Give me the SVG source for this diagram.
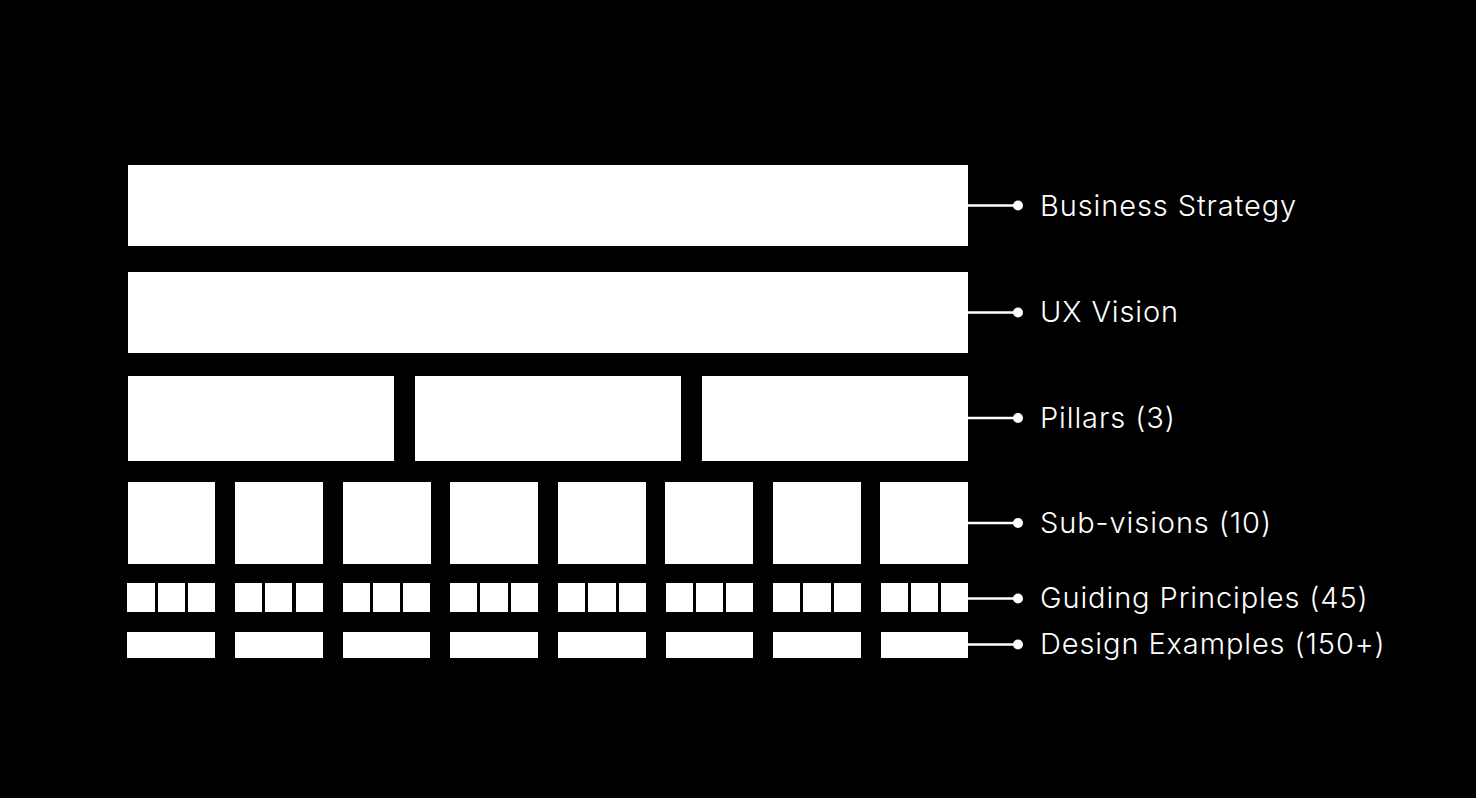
<svg xmlns="http://www.w3.org/2000/svg" width="1476" height="798" viewBox="0 0 1476 798">
<style>
.b{fill:#fff}
.c{stroke:#fff;stroke-width:2.5;fill:none}
.d{fill:#fff}
.t{fill:#fff;font-family:Inter,"Liberation Sans",sans-serif;font-size:29px;font-weight:300;letter-spacing:0.9px}
</style>
<rect width="1476" height="798" fill="#000"/>
<g id="business-strategy"><rect class="b" x="128" y="165" width="840" height="81"/></g>
<g id="ux-vision"><rect class="b" x="128" y="272" width="840" height="81"/></g>
<g id="pillars">
<rect class="b" x="128" y="376" width="266" height="85"/>
<rect class="b" x="415" y="376" width="266" height="85"/>
<rect class="b" x="702" y="376" width="266" height="85"/>
</g>
<g id="sub-visions">
<rect class="b" x="128" y="482" width="87" height="82"/>
<rect class="b" x="235" y="482" width="88" height="82"/>
<rect class="b" x="343" y="482" width="88" height="82"/>
<rect class="b" x="450" y="482" width="88" height="82"/>
<rect class="b" x="558" y="482" width="88" height="82"/>
<rect class="b" x="665" y="482" width="88" height="82"/>
<rect class="b" x="773" y="482" width="88" height="82"/>
<rect class="b" x="880" y="482" width="88" height="82"/>
</g>
<g id="guiding-principles">
<rect class="b" x="127" y="583" width="28" height="29"/><rect class="b" x="158" y="583" width="27" height="29"/><rect class="b" x="188" y="583" width="27" height="29"/>
<rect class="b" x="235" y="583" width="27" height="29"/><rect class="b" x="265" y="583" width="27" height="29"/><rect class="b" x="296" y="583" width="27" height="29"/>
<rect class="b" x="343" y="583" width="27" height="29"/><rect class="b" x="373" y="583" width="27" height="29"/><rect class="b" x="403" y="583" width="27" height="29"/>
<rect class="b" x="450" y="583" width="27" height="29"/><rect class="b" x="480" y="583" width="28" height="29"/><rect class="b" x="511" y="583" width="27" height="29"/>
<rect class="b" x="558" y="583" width="27" height="29"/><rect class="b" x="588" y="583" width="28" height="29"/><rect class="b" x="619" y="583" width="27" height="29"/>
<rect class="b" x="666" y="583" width="27" height="29"/><rect class="b" x="696" y="583" width="27" height="29"/><rect class="b" x="726" y="583" width="27" height="29"/>
<rect class="b" x="773" y="583" width="27" height="29"/><rect class="b" x="803" y="583" width="28" height="29"/><rect class="b" x="834" y="583" width="27" height="29"/>
<rect class="b" x="881" y="583" width="27" height="29"/><rect class="b" x="911" y="583" width="27" height="29"/><rect class="b" x="941" y="583" width="27" height="29"/>
</g>
<g id="design-examples">
<rect class="b" x="127" y="632" width="88" height="26"/>
<rect class="b" x="235" y="632" width="88" height="26"/>
<rect class="b" x="343" y="632" width="87" height="26"/>
<rect class="b" x="450" y="632" width="88" height="26"/>
<rect class="b" x="558" y="632" width="88" height="26"/>
<rect class="b" x="666" y="632" width="87" height="26"/>
<rect class="b" x="773" y="632" width="88" height="26"/>
<rect class="b" x="881" y="632" width="87" height="26"/>
</g>
<g id="connectors">
<path class="c" d="M968 205.5H1018M968 312.5H1018M968 418H1018M968 523H1018M968 598.5H1018M968 644.5H1018"/>
<circle class="d" cx="1018" cy="205.5" r="5"/>
<circle class="d" cx="1018" cy="312.5" r="5"/>
<circle class="d" cx="1018" cy="418" r="5"/>
<circle class="d" cx="1018" cy="523" r="5"/>
<circle class="d" cx="1018" cy="598.5" r="5"/>
<circle class="d" cx="1018" cy="644.5" r="5"/>
</g>
<g id="labels">
<text class="t" x="1040" y="215.5">Business Strategy</text>
<text class="t" x="1040" y="321.5">UX Vision</text>
<text class="t" x="1040" y="427.5">Pillars (3)</text>
<text class="t" x="1040" y="532.5">Sub-visions (10)</text>
<text class="t" x="1040" y="607.5">Guiding Principles (45)</text>
<text class="t" x="1040" y="653.5">Design Examples (150+)</text>
</g>
</svg>
